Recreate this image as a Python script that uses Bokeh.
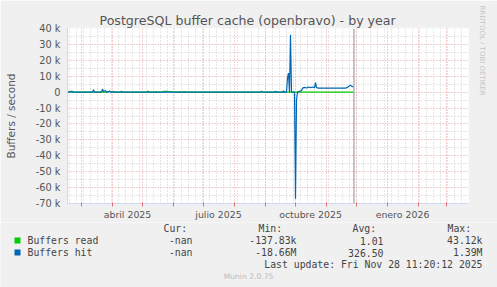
from datetime import datetime, timedelta
from bokeh.plotting import figure
from bokeh.layouts import column
from bokeh.models import Range1d, FixedTicker, Span, Title
from bokeh.core.properties import value
from bokeh.embed import file_html
from bokeh.resources import INLINE

EPOCH = datetime(1970, 1, 1)


def ms(s):
    fmt = "%Y-%m-%d %H:%M" if " " in s else "%Y-%m-%d"
    return int((datetime.strptime(s, fmt) - EPOCH).total_seconds() * 1000)


# ---------------- data ----------------
HIT_DATES = [
    "2025-02-15", "2025-02-17", "2025-02-18", "2025-02-19", "2025-03-12", "2025-03-13",
    "2025-03-14", "2025-03-21", "2025-03-22", "2025-03-23", "2025-03-25", "2025-03-26",
    "2025-03-28", "2025-03-29", "2025-03-30", "2025-04-01", "2025-04-02", "2025-04-03",
    "2025-04-09", "2025-04-10", "2025-04-11", "2025-08-27", "2025-08-28", "2025-08-29",
    "2025-09-10", "2025-09-11", "2025-09-12", "2025-09-18", "2025-09-19", "2025-09-20",
    "2025-09-22", "2025-09-23", "2025-09-24", "2025-09-25", "2025-09-26", "2025-09-27",
    "2025-09-30", "2025-10-01", "2025-10-02", "2025-10-03", "2025-10-05", "2025-10-07",
    "2025-10-08", "2025-10-10", "2025-10-12", "2025-10-14", "2025-10-16", "2025-10-18",
    "2025-10-20", "2025-10-21", "2025-10-22", "2025-10-24", "2025-11-20", "2025-11-22",
    "2025-11-24", "2025-11-25", "2025-11-26", "2025-11-27", "2025-11-28",
]
HIT_VALUES = [
    0, 0, 300, 0, 0, 1500,
    0, 0, 2000, 300, 1000, 0,
    0, 700, 0, 0, 500, 0,
    0, 500, 0, 0, 500, 0,
    0, 500, 0, 0, 700, 0,
    0, 9000, 12000, 0, 36000, 0,
    0, -67000, -5000, 0, 500, 1000,
    2500, 3000, 2600, 3200, 2800, 3200,
    2800, 6000, 2800, 2500, 2500, 3000,
    4000, 4300, 3800, 3500, 3300,
]

READ_DATES = [
    "2025-02-15", "2025-02-17", "2025-02-18", "2025-02-20", "2025-02-21", "2025-03-26",
    "2025-03-27", "2025-03-30", "2025-03-31", "2025-05-05", "2025-05-06", "2025-05-07",
    "2025-05-08", "2025-05-13", "2025-05-14", "2025-05-15", "2025-05-21", "2025-05-22",
    "2025-05-26", "2025-05-27", "2025-05-30", "2025-05-31", "2025-06-06", "2025-06-07",
    "2025-06-08", "2025-06-10", "2025-06-11", "2025-06-12", "2025-06-13", "2025-08-27",
    "2025-08-28", "2025-08-29", "2025-11-28",
]
READ_VALUES = [
    0, 0, 500, 500, 0, 0,
    400, 400, 0, 0, 500, 500,
    0, 0, 400, 0, 0, 500,
    500, 400, 400, 0, 0, 400,
    0, 0, 400, 400, 0, 0,
    400, 0, 0,
]

SERIES_NAMES = ["Buffers read", "Buffers hit"]
SERIES_COLORS = ["#00CC00", "#0066B3"]
CUR = ["-nan", "-nan"]
MIN = ["-137.83k", "-18.66M"]
AVG = ["1.01", "326.50"]
MAX = ["43.12k", "1.39M"]
HEADERS = ["Cur:", "Min:", "Avg:", "Max:"]

X_START = "2025-02-15"
X_END = "2026-03-23"
NOW = "2025-11-28 11:20"
Y_MIN, Y_MAX = -70000, 40000
Y_TICKS = [-70000, -60000, -50000, -40000, -30000, -20000, -10000, 0, 10000, 20000, 30000, 40000]
Y_TICK_LABELS = ["-70 k", "-60 k", "-50 k", "-40 k", "-30 k", "-20 k", "-10 k", "0",
                 "10 k", "20 k", "30 k", "40 k"]
X_LABEL_DATES = ["2025-04-16", "2025-07-16", "2025-10-16", "2026-01-16"]
X_LABELS = ["abril 2025", "julio 2025", "octubre 2025", "enero 2026"]

TITLE = "PostgreSQL buffer cache (openbravo) - by year"
Y_TITLE = "Buffers / second"
LAST_UPDATE = "Last update: Fri Nov 28 11:20:12 2025"
FOOTER = "Munin 2.0.75"
WATERMARK = "RRDTOOL / TOBI OETIKER"

# ---------------- ticks ----------------
month_starts = []
for yy, mm in [(2025, m) for m in range(3, 13)] + [(2026, m) for m in range(1, 4)]:
    month_starts.append(ms(f"{yy}-{mm:02d}-01"))
mondays = []
d = datetime(2025, 2, 17)
while d < datetime(2026, 3, 23):
    mondays.append(int((d - EPOCH).total_seconds() * 1000))
    d += timedelta(days=7)
y_minor = [t + 5000 for t in Y_TICKS[:-1]]
x_label_ms = [ms(s) for s in X_LABEL_DATES]

W, H = 497, 287
FRAME_L, FRAME_T, FRAME_W, FRAME_H = 67, 28, 401, 175
MAIN_B = 19
MAIN_H = FRAME_T + FRAME_H + MAIN_B
BG = "#F0F0F0"

p = figure(
    x_axis_type="datetime",
    frame_width=FRAME_W, frame_height=FRAME_H,
    min_border_left=FRAME_L, min_border_right=W - FRAME_L - FRAME_W,
    min_border_top=FRAME_T, min_border_bottom=MAIN_B,
    x_range=Range1d(ms(X_START), ms(X_END)),
    y_range=Range1d(Y_MIN, Y_MAX),
    output_backend="svg", toolbar_location=None,
    background_fill_color="#FFFFFF", border_fill_color=BG,
    outline_line_color=None,
)

p.title.text = TITLE
p.title.align = "left"
p.title.offset = 32
p.title.standoff = 2
p.title.text_font = "DejaVu Sans"
p.title.text_font_size = "12.6px"
p.title.text_font_style = "normal"
p.title.text_color = "#555555"

p.add_layout(Title(text=WATERMARK, align="left", offset=-23, text_font="DejaVu Sans",
                   text_font_size="7px", text_font_style="normal",
                   text_color="#C4C4C4", standoff=19), "right")

# grids
p.xgrid.ticker = FixedTicker(ticks=month_starts, minor_ticks=mondays)
p.ygrid.ticker = FixedTicker(ticks=Y_TICKS, minor_ticks=y_minor)
for g in (p.xgrid[0], p.ygrid[0]):
    g.grid_line_color = "#EBA0A0"
    g.grid_line_dash = "1 2"
    g.grid_line_width = 1
    g.minor_grid_line_color = "#CCCCCC"
    g.minor_grid_line_dash = "1 2"
    g.minor_grid_line_width = 1

# axes
xa = p.xaxis[0]
xa.ticker = FixedTicker(ticks=x_label_ms, minor_ticks=month_starts)
xa.major_label_overrides = {t: lab for t, lab in zip(x_label_ms, X_LABELS)}
xa.major_tick_line_color = None
xa.major_tick_out = 0
xa.major_tick_in = 0
xa.minor_tick_line_color = "#E07070"
xa.minor_tick_in = 1
xa.minor_tick_out = 3
xa.axis_line_color = "#CFD6F8"
xa.major_label_text_font = "DejaVu Sans"
xa.major_label_text_font_size = "9.4px"
xa.major_label_text_color = "#555555"
xa.major_label_standoff = 2

ya = p.yaxis[0]
ya.ticker = FixedTicker(ticks=Y_TICKS)
ya.major_label_overrides = {t: lab for t, lab in zip(Y_TICKS, Y_TICK_LABELS)}
ya.major_tick_line_color = None
ya.major_tick_out = 0
ya.major_tick_in = 0
ya.minor_tick_line_color = None
ya.axis_line_color = "#CFD6F8"
ya.major_label_text_font = "DejaVu Sans"
ya.major_label_text_font_size = "9.8px"
ya.major_label_text_color = "#555555"
ya.major_label_standoff = 7
ya.axis_label = Y_TITLE
ya.axis_label_text_font = "DejaVu Sans"
ya.axis_label_text_font_size = "10.5px"
ya.axis_label_text_font_style = "normal"
ya.axis_label_text_color = "#555555"
ya.axis_label_standoff = 16

# series
p.line([ms(s) for s in READ_DATES], READ_VALUES, line_color=SERIES_COLORS[0], line_width=1.2)
p.line([ms(s) for s in HIT_DATES], HIT_VALUES, line_color=SERIES_COLORS[1], line_width=1.2)
p.add_layout(Span(location=ms(NOW), dimension="height", line_color="#8C8C8C", line_width=1))

# ---------------- legend / footer panel (pixel coordinates, y downwards) ----------------
LEG_TOP = MAIN_H
q = figure(
    frame_width=W, frame_height=H - LEG_TOP,
    min_border=0, min_border_left=0, min_border_right=0, min_border_top=0, min_border_bottom=0,
    x_range=Range1d(0, W), y_range=Range1d(H, LEG_TOP),
    x_axis_location=None, y_axis_location=None,
    output_backend="svg", toolbar_location=None,
    background_fill_color=BG, border_fill_color=BG, outline_line_color=None,
)
q.xgrid.visible = False
q.ygrid.visible = False
for fig in (p, q):
    try:
        fig.frame_align = False
    except Exception:
        pass

MONO = value("DejaVu Sans Mono")
FS = value("9.8px")
TXT = "#444444"
HEADER_X = [163, 258, 352, 447]
ROW_Y = [240, 252]
HEADER_Y = 228

q.text(x=HEADER_X, y=[HEADER_Y] * 4, text=HEADERS, text_font=MONO, text_font_size=FS,
       text_color=TXT, text_align="left", text_baseline="middle")
q.scatter(x=[17, 17], y=ROW_Y, marker="square", size=6, fill_color=SERIES_COLORS,
          line_color=None)
q.text(x=[27, 27], y=ROW_Y, text=SERIES_NAMES, text_font=MONO, text_font_size=FS,
       text_color=TXT, text_align="left", text_baseline="middle")
for col_x, vals in zip([192, 296, 383, 482], [CUR, MIN, AVG, MAX]):
    q.text(x=[col_x, col_x], y=ROW_Y, text=vals, text_font=MONO, text_font_size=FS,
           text_color=TXT, text_align="right", text_baseline="middle")
q.text(x=[482], y=[264], text=[LAST_UPDATE], text_font=MONO, text_font_size=FS,
       text_color=TXT, text_align="right", text_baseline="middle")
q.text(x=[248], y=[276], text=[FOOTER], text_font=value("DejaVu Sans"),
       text_font_size=value("7.6px"), text_color="#BBBBBB", text_align="center",
       text_baseline="middle")

layout = column(p, q, spacing=0)
open("out.html", "w").write(file_html(layout, INLINE))
